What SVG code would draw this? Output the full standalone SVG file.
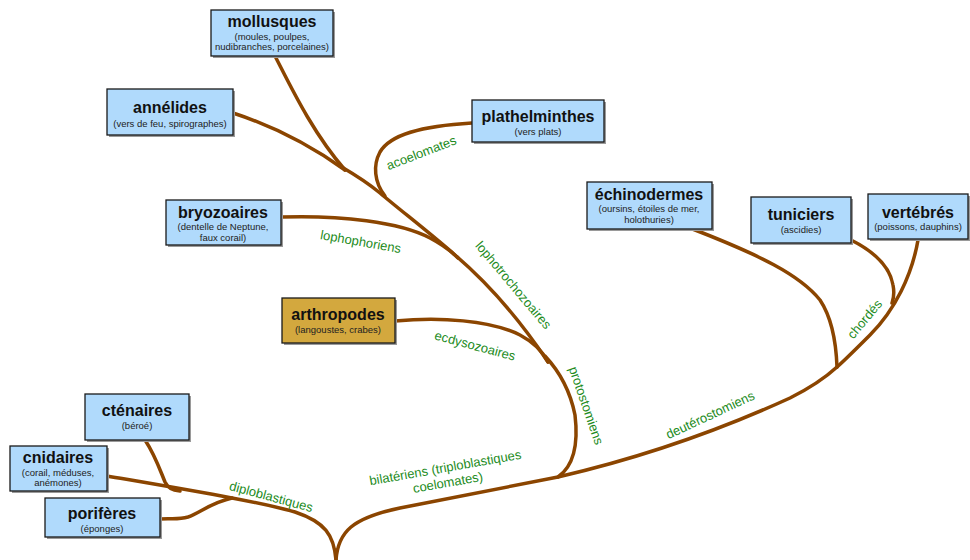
<svg xmlns="http://www.w3.org/2000/svg" width="970" height="560" viewBox="0 0 970 560">
<style>
.br{fill:none;stroke:#8B4500;stroke-width:3.5;stroke-linecap:round;stroke-linejoin:round}
.box{fill:#B0DAFC;stroke:#1a1a1a;stroke-width:1.3}
.gold{fill:#D3A83E;stroke:#1a1a1a;stroke-width:1.3}
.sh{fill:#9a9a9a}
.t{font-family:"Liberation Sans",Arial,sans-serif;font-weight:bold;font-size:16px;fill:#111;text-anchor:middle}
.s{font-family:"Liberation Sans",Arial,sans-serif;font-size:9.5px;fill:#222;text-anchor:middle}
.lb{font-family:"Liberation Sans",Arial,sans-serif;font-size:13px;fill:#228B22;text-anchor:middle}
</style>
<rect width="970" height="560" fill="#fff"/>
<g id="connectors">
<path class="br" d="M336,560 C334,535 325,522 295,512 C260,502 200,492 107,476"/>
<path class="br" d="M145,440 C155,455 160,470 165,482 C168,488 172,490 180,491"/>
<path class="br" d="M160,519 C170,518 178,520 188,517 C200,513 210,503 232,498"/>
<path class="br" d="M336,560 C338,532 352,518 400,508 L558,477 C640,458 720,430 790,398 C810,388 825,378 837,367"/>
<path class="br" d="M558,477 C575,465 578,440 575,415 C570,390 560,372 545,356"/>
<path class="br" d="M548,362 C520,320 490,285 455,255 C430,233 400,210 380,193 C368,183 352,173 340,166"/>
<path class="br" d="M275,56 C290,85 312,132 345,170"/>
<path class="br" d="M233,113 C270,125 310,145 345,170"/>
<path class="br" d="M472,123 C420,126 390,135 380,152 C373,165 374,182 385,196"/>
<path class="br" d="M281,217 C340,215 400,222 430,238 C445,246 452,252 458,258"/>
<path class="br" d="M395,321 C440,317 490,320 520,335 C535,343 543,352 548,362"/>
<path class="br" d="M690,228 C760,255 800,275 820,300 C832,318 836,340 837,367"/>
<path class="br" d="M918,240 C912,275 895,310 870,335 C855,350 845,360 837,367"/>
<path class="br" d="M851,240 C875,252 890,268 893,285 C895,295 893,300 892,303"/>
</g>
<g id="labels">
<text class="lb" transform="translate(423,157) rotate(-21)">acoelomates</text>
<text class="lb" transform="translate(360,246) rotate(10)">lophophoriens</text>
<text class="lb" transform="translate(510,288) rotate(50)">lophotrochozoaires</text>
<text class="lb" transform="translate(474,350) rotate(15)">ecdysozoaires</text>
<text class="lb" transform="translate(582,407) rotate(71)">protostomiens</text>
<text class="lb" transform="translate(712,419) rotate(-25)">deutérostomiens</text>
<text class="lb" transform="translate(868,322) rotate(-50)">chordés</text>
<text class="lb" transform="translate(270,501) rotate(15)">diploblastiques</text>
<text class="lb" transform="translate(446,472) rotate(-10)">bilatériens (triploblastiques<tspan x="0" y="15">coelomates)</tspan></text>
</g>
<g id="mollusques">
<rect class="sh" x="213" y="12" width="122" height="46"/>
<rect class="box" x="211" y="10" width="122" height="46"/>
<text class="t" x="272" y="27">mollusques</text>
<text class="s" x="272" y="40">(moules, poulpes,</text>
<text class="s" x="272" y="50">nudibranches, porcelaines)</text>
</g>
<g id="annelides">
<rect class="sh" x="109" y="91" width="126" height="46"/>
<rect class="box" x="107" y="89" width="126" height="46"/>
<text class="t" x="170" y="113">annélides</text>
<text class="s" x="170" y="127">(vers de feu, spirographes)</text>
</g>
<g id="plathelminthes">
<rect class="sh" x="474" y="102" width="132" height="42"/>
<rect class="box" x="472" y="100" width="132" height="42"/>
<text class="t" x="538" y="122">plathelminthes</text>
<text class="s" x="538" y="135">(vers plats)</text>
</g>
<g id="bryozoaires">
<rect class="sh" x="168" y="202" width="115" height="45"/>
<rect class="box" x="166" y="200" width="115" height="45"/>
<text class="t" x="223" y="218">bryozoaires</text>
<text class="s" x="223" y="230">(dentelle de Neptune,</text>
<text class="s" x="223" y="241">faux corail)</text>
</g>
<g id="arthropodes">
<rect class="sh" x="284" y="300" width="113" height="45"/>
<rect class="gold" x="282" y="298" width="113" height="45"/>
<text class="t" x="338" y="320">arthropodes</text>
<text class="s" x="338" y="333">(langoustes, crabes)</text>
</g>
<g id="echinodermes">
<rect class="sh" x="589" y="184" width="125" height="47"/>
<rect class="box" x="587" y="182" width="125" height="47"/>
<text class="t" x="649" y="200">échinodermes</text>
<text class="s" x="649" y="212">(oursins,  étoiles de mer,</text>
<text class="s" x="649" y="223">holothuries)</text>
</g>
<g id="tuniciers">
<rect class="sh" x="753" y="199" width="100" height="46"/>
<rect class="box" x="751" y="197" width="100" height="46"/>
<text class="t" x="801" y="220">tuniciers</text>
<text class="s" x="801" y="233">(ascidies)</text>
</g>
<g id="vertebres">
<rect class="sh" x="870" y="196" width="100" height="45"/>
<rect class="box" x="868" y="194" width="100" height="45"/>
<text class="t" x="918" y="218">vertébrés</text>
<text class="s" x="918" y="230">(poissons, dauphins)</text>
</g>
<g id="ctenaires">
<rect class="sh" x="87" y="396" width="104" height="46"/>
<rect class="box" x="85" y="394" width="104" height="46"/>
<text class="t" x="137" y="416">cténaires</text>
<text class="s" x="137" y="429">(béroé)</text>
</g>
<g id="cnidaires">
<rect class="sh" x="12" y="448" width="97" height="45"/>
<rect class="box" x="10" y="446" width="97" height="45"/>
<text class="t" x="58" y="463">cnidaires</text>
<text class="s" x="58" y="476">(corail, méduses,</text>
<text class="s" x="58" y="486">anémones)</text>
</g>
<g id="poriferes">
<rect class="sh" x="47" y="500" width="115" height="39"/>
<rect class="box" x="45" y="498" width="115" height="39"/>
<text class="t" x="102" y="519">porifères</text>
<text class="s" x="102" y="532">(éponges)</text>
</g>
</svg>
